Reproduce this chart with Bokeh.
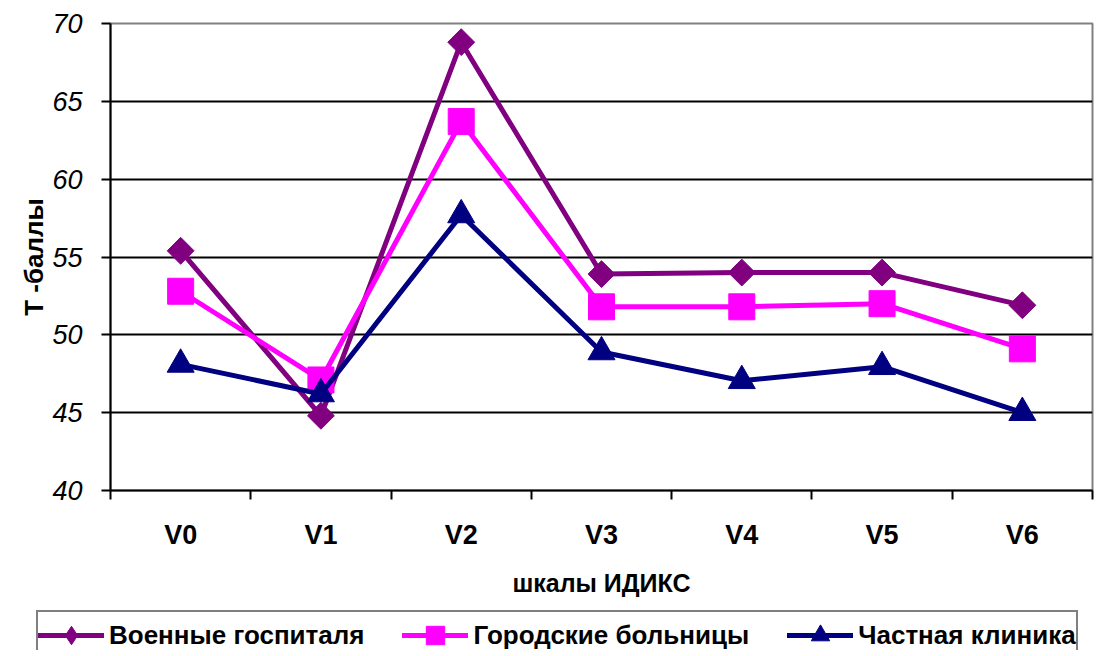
from bokeh.plotting import figure
from bokeh.layouts import column
from bokeh.models import FixedTicker, Legend, LegendItem, Range1d
from bokeh.embed import file_html
from bokeh.resources import INLINE

categories = ["V0", "V1", "V2", "V3", "V4", "V5", "V6"]
military = [55.4, 44.8, 68.8, 53.9, 54.0, 54.0, 51.9]
city = [52.8, 47.1, 63.7, 51.8, 51.8, 52.0, 49.1]
private = [48.1, 46.2, 57.7, 48.9, 47.05, 47.95, 45.0]
series_names = ["Военные госпиталя", "Городские больницы", "Частная клиника"]
y_ticks = [40, 45, 50, 55, 60, 65, 70]
x_title = "шкалы ИДИКС"
y_title = "Т -баллы"

FONT = "Liberation Sans"
n = len(categories)
xs = [i + 0.5 for i in range(n)]

p = figure(width=1100, height=606, output_backend="svg", toolbar_location=None,
           x_range=Range1d(0, n), y_range=Range1d(y_ticks[0], y_ticks[-1]),
           min_border_left=110, min_border_right=8, min_border_top=23,
           min_border_bottom=116)
p.background_fill_color = "white"
p.border_fill_color = "white"
p.outline_line_color = "#808080"
p.outline_line_width = 2

xa = p.xaxis[0]
xa.ticker = FixedTicker(ticks=xs, minor_ticks=list(range(n + 1)))
xa.major_label_overrides = {x: c for x, c in zip(xs, categories)}
xa.major_tick_out = 0
xa.major_tick_in = 0
xa.minor_tick_out = 9
xa.minor_tick_in = 0
xa.minor_tick_line_color = "black"
xa.minor_tick_line_width = 2
xa.axis_line_color = "black"
xa.axis_line_width = 2
xa.major_label_text_font = FONT
xa.major_label_text_font_style = "bold"
xa.major_label_text_font_size = "27px"
xa.major_label_text_color = "black"
xa.major_label_standoff = 20
xa.axis_label = x_title
xa.axis_label_text_font = FONT
xa.axis_label_text_font_style = "bold"
xa.axis_label_text_font_size = "25px"
xa.axis_label_text_color = "black"
xa.axis_label_standoff = 16

ya = p.yaxis[0]
ya.ticker = FixedTicker(ticks=y_ticks)
ya.major_tick_out = 9
ya.major_tick_in = 0
ya.major_tick_line_color = "black"
ya.major_tick_line_width = 2
ya.minor_tick_line_color = None
ya.axis_line_color = "black"
ya.axis_line_width = 2
ya.major_label_text_font = FONT
ya.major_label_text_font_style = "italic"
ya.major_label_text_font_size = "27px"
ya.major_label_text_color = "black"
ya.major_label_standoff = 19
ya.axis_label = y_title
ya.axis_label_text_font = FONT
ya.axis_label_text_font_style = "bold"
ya.axis_label_text_font_size = "26px"
ya.axis_label_text_color = "black"
ya.axis_label_standoff = 0

p.xgrid.grid_line_color = None
p.ygrid.ticker = FixedTicker(ticks=y_ticks[1:-1])
p.ygrid.grid_line_color = "black"
p.ygrid.grid_line_width = 2

colors = ["#800080", "#FF00FF", "#000080"]
markers = ["square", "square", "triangle"]
legend_markers = ["diamond", "square", "triangle"]
angles = [0.785398, 0.0, 0.0]
sizes = [19, 26, 27]

# legend strip below the chart
pl = figure(width=1100, height=44, output_backend="svg", toolbar_location=None,
            x_range=Range1d(0, 1), y_range=Range1d(0, 1),
            x_axis_location=None, y_axis_location=None,
            min_border_left=0, min_border_right=0, min_border_top=0,
            min_border_bottom=0)
pl.frame_align = False
pl.outline_line_color = None
pl.grid.grid_line_color = None
pl.background_fill_color = "white"
pl.border_fill_color = "white"

items = []
for vals, name, col, mk, lmk, ang, sz in zip([military, city, private], series_names,
                                              colors, markers, legend_markers,
                                              angles, sizes):
    p.line(xs, vals, line_color=col, line_width=5)
    p.scatter(xs, vals, marker=mk, angle=ang, size=sz, fill_color=col,
              line_color=col, line_width=1)
    # off-range proxies, only used for the legend swatches
    ln = pl.line([-5, -4], [-5, -5], line_color=col, line_width=5,
                 line_cap="round")
    sc = pl.scatter([-5], [-5], marker=lmk, size=sz, fill_color=col,
                    line_color=col, line_width=1)
    items.append(LegendItem(label=name, renderers=[ln, sc]))

legend = Legend(items=items, orientation="horizontal", location=(36, -10))
legend.border_line_color = "black"
legend.border_line_width = 2
legend.background_fill_color = "white"
legend.background_fill_alpha = 1
legend.label_text_font = FONT
legend.label_text_font_style = "bold"
legend.label_text_font_size = "26px"
legend.label_text_color = "black"
legend.glyph_width = 66
legend.glyph_height = 46
legend.label_standoff = 5
legend.spacing = 38
legend.padding = 0
legend.margin = 0
pl.add_layout(legend, "center")

layout = column(p, pl, spacing=0)
open("out.html", "w").write(file_html(layout, INLINE))
